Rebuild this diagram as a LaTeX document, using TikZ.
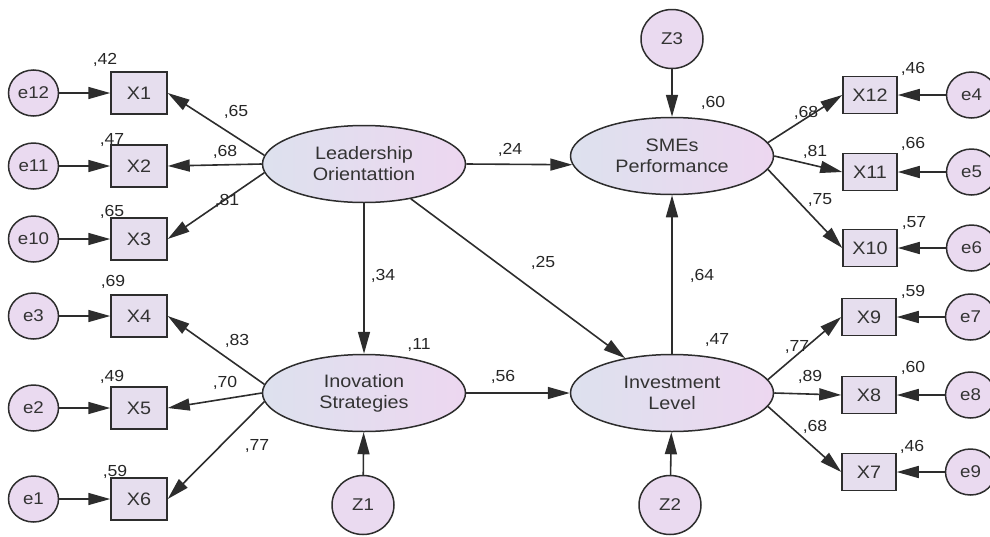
\documentclass[tikz,border=0pt]{standalone}
\usepackage{fontspec}
\setmainfont{Liberation Sans}[FakeStretch=1.1]
\usepackage{tikz}
\usetikzlibrary{arrows.meta, positioning, shapes.geometric}

\definecolor{boxfill}{RGB}{230,222,238}
\definecolor{errfill}{RGB}{234,218,240}
\definecolor{latleft}{RGB}{221,225,238}
\definecolor{latright}{RGB}{237,215,240}
\definecolor{edgegray}{RGB}{45,45,45}

\begin{document}
\begin{tikzpicture}[x=1pt, y=-1pt,
                latent/.style={ellipse, draw=edgegray, line width=1.5pt, left color=latleft, right color=latright,
                               minimum width=203pt, minimum height=77pt, align=center, inner sep=0pt,
                               font=\fontsize{18}{21}\selectfont, text=black!80},
                item/.style={rectangle, draw=edgegray, line width=1.5pt, fill=boxfill, minimum width=56pt,
                             minimum height=42pt, inner sep=0pt, font=\fontsize{18}{21}\selectfont, text=black!80},
                itemR/.style={item, minimum width=54pt, minimum height=37pt},
                err/.style={ellipse, draw=edgegray, line width=1.5pt, fill=errfill, minimum width=50pt,
                            minimum height=46pt, inner sep=0pt, font=\fontsize{17}{19}\selectfont, text=black!80},
                dist/.style={err, minimum width=62pt, minimum height=59pt},
                coef/.style={inner sep=0pt, font=\fontsize{16}{18}\selectfont, text=black!85},
                link/.style={-{Triangle[length=22pt, width=12pt]}, line width=1.6pt, draw=edgegray}]

                \useasboundingbox (0,0) rectangle (990,536);

                % Latent variables
                \node[latent] (lead) at (364,164) {Leadership\\Orientattion};
                \node[latent] (inov) at (364,393) {Inovation\\Strategies};
                \node[latent] (sme) at (672,156) {SMEs\\Performance};
                \node[latent] (inv) at (672,393) {Investment\\Level};

                % Disturbances
                \node[dist] (Z3) at (672,39) {Z3};
                \node[dist] (Z1) at (363,505) {Z1};
                \node[dist] (Z2) at (670,505) {Z2};

                % Indicators on the left with their errors
                \node[item] (X1) at (139,93) {X1};
                \node[item] (X2) at (139,166) {X2};
                \node[item] (X3) at (139,239) {X3};
                \node[item] (X4) at (139,316) {X4};
                \node[item] (X5) at (139,408) {X5};
                \node[item] (X6) at (139,499) {X6};
                \node[err, left=51pt of X1] (e12) {e12};
                \node[err, left=51pt of X2] (e11) {e11};
                \node[err, left=51pt of X3] (e10) {e10};
                \node[err, left=51pt of X4] (e3) {e3};
                \node[err, left=51pt of X5] (e2) {e2};
                \node[err, left=51pt of X6] (e1) {e1};

                % Indicators on the right with their errors
                \node[itemR] (X12) at (870,95) {X12};
                \node[itemR] (X11) at (870,172) {X11};
                \node[itemR] (X10) at (870,248) {X10};
                \node[itemR] (X9) at (869,317) {X9};
                \node[itemR] (X8) at (869,395) {X8};
                \node[itemR] (X7) at (869,472) {X7};
                \node[err, right=48pt of X12] (e4) {e4};
                \node[err, right=48pt of X11] (e5) {e5};
                \node[err, right=48pt of X10] (e6) {e6};
                \node[err, right=48pt of X9] (e7) {e7};
                \node[err, right=48pt of X8] (e8) {e8};
                \node[err, right=48pt of X7] (e9) {e9};

                % Error terms into indicators
                \draw[link] (e12) -- (X1);
                \draw[link] (e11) -- (X2);
                \draw[link] (e10) -- (X3);
                \draw[link] (e3) -- (X4);
                \draw[link] (e2) -- (X5);
                \draw[link] (e1) -- (X6);
                \draw[link] (e4) -- (X12);
                \draw[link] (e5) -- (X11);
                \draw[link] (e6) -- (X10);
                \draw[link] (e7) -- (X9);
                \draw[link] (e8) -- (X8);
                \draw[link] (e9) -- (X7);

                % Measurement paths
                \draw[link] (lead.175) -- (X1.east);
                \draw[link] (lead.west) -- (X2.east);
                \draw[link] (lead.185) -- (X3.east);
                \draw[link] (inov.175) -- (X4.east);
                \draw[link] (inov.west) -- (X5.east);
                \draw[link] (inov.185) -- (X6.east);
                \draw[link] (sme.8) -- (X12.west);
                \draw[link] (sme.east) -- (X11.west);
                \draw[link] (sme.-8) -- (X10.west);
                \draw[link] (inv.8) -- (X9.west);
                \draw[link] (inv.east) -- (X8.west);
                \draw[link] (inv.-8) -- (X7.west);

                % Structural paths
                \draw[link] (lead.east) -- (sme.185);
                \draw[link] (lead) -- (inov);
                \draw[link] (lead) -- (inv);
                \draw[link] (inov) -- (inv);
                \draw[link] (inv) -- (sme);
                \draw[link] (Z3) -- (sme);
                \draw[link] (Z1) -- (inov);
                \draw[link] (Z2) -- (inv);

                % Squared multiple correlations
                \node[coef] (vX1) at (105,60) {,42};
                \node[coef] (vX2) at (112,140) {,47};
                \node[coef] (vX3) at (112,212) {,65};
                \node[coef] (vX4) at (113,282) {,69};
                \node[coef] (vX5) at (112,377) {,49};
                \node[coef] (vX6) at (115,472) {,59};
                \node[coef] (vX12) at (913,69) {,46};
                \node[coef] (vX11) at (913,144) {,66};
                \node[coef] (vX10) at (914,223) {,57};
                \node[coef] (vX9) at (913,292) {,59};
                \node[coef] (vX8) at (913,368) {,60};
                \node[coef] (vX7) at (912,447) {,46};
                \node[coef] (vinov) at (419,345) {,11};
                \node[coef] (vsme) at (713,103) {,60};
                \node[coef] (vinv) at (717,340) {,47};

                % Loadings
                \node[coef] (lX1) at (236,112) {,65};
                \node[coef] (lX2) at (225,152) {,68};
                \node[coef] (lX3) at (227,201) {,81};
                \node[coef] (lX4) at (237,341) {,83};
                \node[coef] (lX5) at (225,383) {,70};
                \node[coef] (lX6) at (257,446) {,77};
                \node[coef] (lX12) at (806,113) {,68};
                \node[coef] (lX11) at (815,152) {,81};
                \node[coef] (lX10) at (820,200) {,75};
                \node[coef] (lX9) at (797,347) {,77};
                \node[coef] (lX8) at (810,377) {,89};
                \node[coef] (lX7) at (815,427) {,68};

                % Path coefficients
                \node[coef] (pls) at (510,150) {,24};
                \node[coef] (pli) at (383,276) {,34};
                \node[coef] (plv) at (543,263) {,25};
                \node[coef] (piv) at (503,377) {,56};
                \node[coef] (pvs) at (702,276) {,64};
            \end{tikzpicture}
\end{document}
